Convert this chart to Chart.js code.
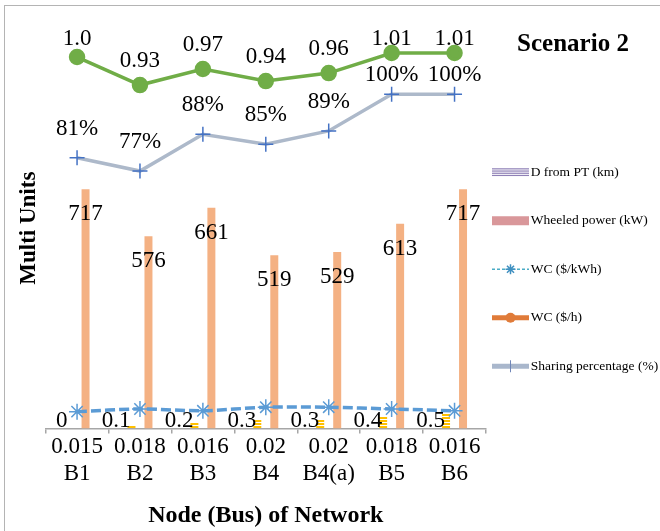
<!DOCTYPE html>
<html>
<head>
<meta charset="utf-8">
<script src="https://cdn.jsdelivr.net/npm/chart.js@4.4.0/dist/chart.umd.min.js"></script>
<style>
  html, body { margin: 0; padding: 0; background: #fff; }
  #wrap { position: relative; width: 660px; height: 531px; overflow: hidden; }
  #frame { position: absolute; left: 4px; top: 5px; width: 720px; height: 600px;
           border-left: 1.5px solid #b4b4b4; border-top: 1.5px solid #b4b4b4; }
  #wrap canvas { position: absolute; left: 0; top: 0; }
</style>
</head>
<body>
<div id="wrap">
  <div id="frame"></div>
  <canvas id="chart" width="660" height="531"></canvas>
</div>
<script>
// ----- data -----
const nodes = ["B1", "B2", "B3", "B4", "B4(a)", "B5", "B6"];
const distPT = [0, 0.1, 0.2, 0.3, 0.3, 0.4, 0.5];           // D from PT (km)
const wheeledPower = [717, 576, 661, 519, 529, 613, 717];   // kW
const wcKwh = [0.015, 0.018, 0.016, 0.02, 0.02, 0.018, 0.016]; // $/kWh
const wcHour = [1.0, 0.93, 0.97, 0.94, 0.96, 1.01, 1.01];   // $/h
const sharing = [81, 77, 88, 85, 89, 100, 100];             // %

const SERIF = '"Liberation Serif", "Times New Roman", serif';
Chart.defaults.font.family = SERIF;
Chart.defaults.color = "#000";

// x tick labels: WC value above the node name
const tickLabels = nodes.map((n, i) => [String(wcKwh[i]), n]);

// striped yellow fill for the small distance bars
function stripes(color) {
  const c = document.createElement("canvas");
  c.width = 4; c.height = 3;
  const g = c.getContext("2d");
  g.fillStyle = color;
  g.fillRect(0, 0, 4, 2);
  return g.createPattern(c, "repeat");
}

// ----- value labels -----
const valueLabels = {
  id: "valueLabels",
  afterDatasetsDraw(chart) {
    const { ctx, chartArea } = chart;
    const dBars = chart.getDatasetMeta(0).data;
    const wBars = chart.getDatasetMeta(1).data;
    const green = chart.getDatasetMeta(3).data;
    const share = chart.getDatasetMeta(4).data;
    ctx.save();
    ctx.fillStyle = "#000";
    ctx.font = "23px " + SERIF;
    ctx.textBaseline = "middle";
    ctx.textAlign = "center";
    wBars.forEach((b, i) => ctx.fillText(String(wheeledPower[i]), b.x, b.y + 25));
    green.forEach((p, i) => {
      const v = wcHour[i];
      const txt = Number.isInteger(v) ? v.toFixed(1) : String(v);
      ctx.fillText(txt, p.x, Math.max(p.y - 24, chartArea.top + 11));
    });
    share.forEach((p, i) => {
      ctx.fillText(sharing[i] + "%", p.x, Math.max(p.y - 29, green[i].y + 22));
    });
    ctx.textAlign = "right";
    ctx.textBaseline = "alphabetic";
    dBars.forEach((b, i) => ctx.fillText(String(distPT[i]), b.x - 1, b.base - 1));
    ctx.restore();
  },
};

// ----- legend symbols (drawn into the legend's empty boxes) -----
const legendSymbols = {
  id: "legendSymbols",
  afterDraw(chart) {
    const lg = chart.legend;
    if (!lg || !lg.legendHitBoxes) return;
    const ctx = chart.ctx;
    ctx.save();
    lg.legendItems.forEach((item, i) => {
      const hb = lg.legendHitBoxes[i];
      const x0 = hb.left, w = 37, y = hb.top + hb.height / 2, cx = x0 + w / 2;
      ctx.setLineDash([]);
      if (item.sym === "d") {
        ctx.fillStyle = "#8f80b6";
        for (let k = 0; k < 4; k++) ctx.fillRect(x0, y - 4 + k * 2.2, w, 1.2);
      } else if (item.sym === "w") {
        ctx.fillStyle = "#d9979a";
        ctx.fillRect(x0, y - 4.5, w, 9);
      } else if (item.sym === "kwh") {
        ctx.strokeStyle = "#4bacc6";
        ctx.lineWidth = 1.5;
        ctx.setLineDash([3, 2]);
        ctx.beginPath(); ctx.moveTo(x0, y); ctx.lineTo(x0 + w, y); ctx.stroke();
        ctx.setLineDash([]);
        ctx.strokeStyle = "#3f8fc0";
        Chart.helpers.drawPoint(ctx, { pointStyle: "star", radius: 5, borderWidth: 1.3, rotation: 0 }, cx, y);
      } else if (item.sym === "wch") {
        ctx.strokeStyle = "#e07b39";
        ctx.lineWidth = 5;
        ctx.beginPath(); ctx.moveTo(x0, y); ctx.lineTo(x0 + w, y); ctx.stroke();
        ctx.fillStyle = "#e07b39";
        ctx.beginPath(); ctx.arc(cx, y, 5, 0, Math.PI * 2); ctx.fill();
      } else if (item.sym === "sh") {
        ctx.strokeStyle = "#a9b7cc";
        ctx.lineWidth = 5;
        ctx.beginPath(); ctx.moveTo(x0, y); ctx.lineTo(x0 + w, y); ctx.stroke();
        ctx.strokeStyle = "#6f86b8";
        ctx.lineWidth = 1;
        ctx.beginPath(); ctx.moveTo(cx, y - 6); ctx.lineTo(cx, y + 6); ctx.stroke();
      }
    });
    ctx.restore();
  },
};

const legendNames = [
  ["D from PT (km)", "d"],
  ["Wheeled power (kW)", "w"],
  ["WC ($/kWh)", "kwh"],
  ["WC ($/h)", "wch"],
  ["Sharing percentage (%)", "sh"],
];

new Chart(document.getElementById("chart"), {
  type: "bar",
  data: {
    labels: tickLabels,
    datasets: [
      { label: "D from PT (km)", data: distPT, yAxisID: "yD", backgroundColor: stripes("#ffc000"),
        categoryPercentage: 0.54, barPercentage: 0.47, order: 2 },
      { label: "Wheeled power (kW)", data: wheeledPower, yAxisID: "y", backgroundColor: "#f4b183",
        categoryPercentage: 0.54, barPercentage: 0.47, order: 2 },
      { type: "line", label: "WC ($/kWh)", data: wcKwh, yAxisID: "yK", borderColor: "#5b9bd5",
        borderWidth: 3.5, borderDash: [10, 4], pointStyle: "star", pointRadius: 8, pointBorderWidth: 1.5,
        pointBorderColor: "#5b9bd5", pointBackgroundColor: "#5b9bd5", tension: 0.3, order: 1 },
      { type: "line", label: "WC ($/h)", data: wcHour, yAxisID: "yH", borderColor: "#70ad47",
        backgroundColor: "#70ad47", borderWidth: 3.5, pointStyle: "circle", pointRadius: 6.5,
        pointBackgroundColor: "#70ad47", pointBorderColor: "#70ad47", order: 0 },
      { type: "line", label: "Sharing percentage (%)", data: sharing, yAxisID: "yS", borderColor: "#adb9ca",
        borderWidth: 3.5, pointStyle: "cross", pointRadius: 7.5, pointBorderWidth: 1.5,
        pointBorderColor: "#4472c4", order: 0 },
    ],
  },
  options: {
    responsive: false,
    animation: false,
    layout: { padding: { left: 8, top: 28, right: 0, bottom: 0 } },
    scales: {
      x: {
        offset: true,
        grid: { display: true, offset: true, drawOnChartArea: false, drawTicks: true, tickLength: 5,
                color: "#a6a6a6", lineWidth: 1.5 },
        border: { display: true, color: "#a6a6a6", width: 1.5 },
        ticks: { color: "#000", font: { family: SERIF, size: 23, lineHeight: 1.17 }, padding: 0,
                 maxRotation: 0, autoSkip: false },
        title: { display: true, text: "Node (Bus) of Network", color: "#000",
                 font: { family: SERIF, size: 24, weight: "bold" }, padding: { top: 14, bottom: 1 } },
      },
      y: {
        position: "left", min: 0, max: 1200,
        grid: { display: false, drawTicks: false }, border: { display: false }, ticks: { display: false },
        title: { display: true, text: "Multi Units", color: "#000",
                 font: { family: SERIF, size: 23, weight: "bold" }, padding: { top: 7, bottom: 3 } },
      },
      yD: { display: false, min: 0, max: 13.33 },
      yK: { display: false, min: -0.004, max: 0.4505 },
      yH: { display: false, min: 0.0725, max: 1.0725 },
      yS: { display: false, min: 0, max: 119.8 },
    },
    plugins: {
      tooltip: { enabled: false },
      legend: {
        position: "right",
        align: "start",
        maxWidth: 174,
        onClick: null,
        title: { display: true, text: "Scenario 2", position: "center", color: "#000",
                 font: { family: SERIF, size: 25, weight: "bold" }, padding: { top: 4, bottom: 83 } },
        labels: {
          boxWidth: 32, boxHeight: 42.5, padding: 6, color: "#000",
          font: { family: SERIF, size: 13.5 },
          generateLabels: () => legendNames.map(([text, sym], i) => ({
            text, sym, datasetIndex: i, hidden: false,
            fillStyle: "rgba(0,0,0,0)", strokeStyle: "rgba(0,0,0,0)", lineWidth: 0,
          })),
        },
      },
    },
  },
  plugins: [valueLabels, legendSymbols],
});
</script>
</body>
</html>
